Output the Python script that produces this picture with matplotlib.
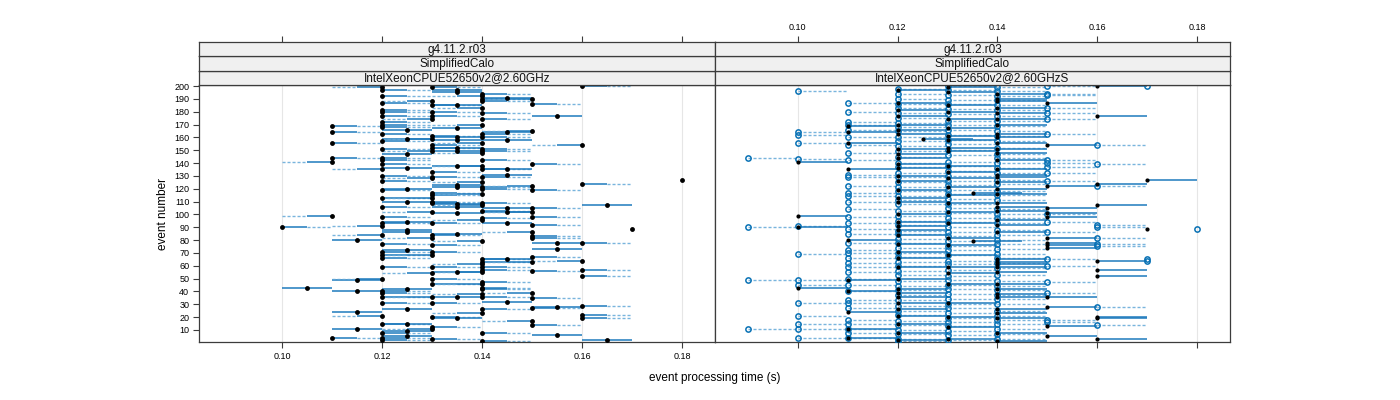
import matplotlib.pyplot as plt

plt.rcParams['font.family'] = ['Liberation Sans', 'DejaVu Sans']

# strip labels (top to bottom) for the two panels
strip_version = ['g4.11.2.r03', 'g4.11.2.r03']
strip_app = ['SimplifiedCalo', 'SimplifiedCalo']
strip_cpu = ['IntelXeonCPUE52650v2@2.60GHz', 'IntelXeonCPUE52650v2@2.60GHzS']

x_ticks = [0.10, 0.12, 0.14, 0.16, 0.18]
y_ticks = list(range(10, 201, 10))

# left panel: event numbers of the black points, keyed by time in ms
left_dots = {
    100: [90],
    105: [43],
    110: [4, 99, 141, 144, 156, 164, 169],
    115: [11, 24, 40, 49, 80],
    120: [2, 4, 8, 15, 21, 31, 36, 39, 40, 50, 59, 66, 68, 71, 77, 84, 91, 93, 98, 106,
          113, 119, 126, 130, 135, 139, 142, 144, 151, 157, 163, 168, 170, 172, 177, 180,
          181, 187, 192, 197, 199],
    125: [5, 9, 15, 26, 42, 72, 86, 88, 94, 110, 120, 136, 147, 159, 166],
    130: [3, 11, 12, 20, 31, 36, 46, 50, 54, 59, 68, 71, 76, 82, 84, 93, 102, 109, 110, 113,
          115, 117, 128, 129, 133, 149, 152, 154, 159, 161, 174, 177, 180, 185, 188, 199],
    135: [19, 36, 55, 85, 101, 106, 108, 121, 123, 138, 149, 152, 158, 160, 167, 185, 195, 197],
    140: [1, 8, 23, 26, 36, 38, 42, 43, 46, 47, 55, 57, 59, 61, 63, 65, 79, 96, 97, 103, 107,
          109, 116, 120, 121, 125, 129, 135, 138, 142, 148, 149, 151, 156, 160, 163, 170, 174,
          179, 183, 188, 190, 192, 194],
    145: [32, 65, 93, 102, 105, 131, 135, 158, 164, 191],
    150: [14, 17, 27, 35, 39, 56, 63, 67, 82, 83, 86, 92, 98, 102, 105, 119, 122, 139, 165, 186, 190],
    155: [6, 28, 73, 78, 177],
    160: [19, 22, 29, 52, 57, 64, 78, 124, 154, 200],
    165: [2, 107],
    170: [89],
    180: [127],
}
# points whose range line runs back to the left of the point
left_back = {
    110: [99, 141],
    120: [21, 50, 84, 91, 135, 199],
    130: [11, 36, 54, 68, 82, 102, 113, 128, 149, 159, 174, 188],
    140: [23, 38, 46, 55, 61, 79, 96, 107, 116, 125, 138, 148, 156, 170, 183, 192],
    150: [17, 39, 63, 86, 102, 122, 165, 190],
    160: [64, 154],
}
# points drawn without a range line
left_bare = {170: [89], 180: [127]}

# right panel: black points and open circles, keyed by time in ms
right_dots = {
    100: [43, 90, 99, 141],
    110: [4, 11, 24, 40, 49, 80, 135, 156, 164, 169],
    120: [2, 8, 15, 21, 26, 31, 36, 39, 42, 50, 59, 66, 71, 77, 84, 88, 91, 94, 100, 110,
          113, 119, 126, 130, 136, 139, 144, 147, 151, 163, 166, 170, 177, 181, 187, 197],
    125: [159],
    130: [3, 12, 20, 31, 46, 54, 59, 68, 76, 82, 93, 102, 109, 115, 121, 128, 133, 138, 149,
          152, 158, 161, 167, 174, 180, 185, 195, 199],
    135: [79, 117],
    140: [1, 8, 19, 23, 26, 36, 38, 42, 46, 55, 59, 61, 63, 65, 86, 92, 96, 103, 106, 109,
          116, 120, 125, 129, 131, 135, 142, 148, 151, 156, 160, 163, 170, 174, 179, 183,
          188, 190, 194],
    150: [5, 13, 28, 36, 74, 76, 78, 82, 98, 101, 105, 122, 154, 187],
    160: [3, 19, 20, 52, 57, 64, 107, 124, 177, 200],
    170: [89, 127],
}
right_open = {
    90: [11, 49, 90, 144],
    100: [4, 11, 15, 21, 31, 45, 49, 69, 91, 143, 156, 162, 164, 196],
    110: [4, 8, 11, 15, 18, 27, 31, 33, 40, 45, 50, 55, 59, 62, 66, 70, 72, 78, 85, 89, 93,
          98, 104, 110, 114, 117, 122, 129, 131, 142, 148, 154, 160, 166, 170, 172, 180, 187],
    120: [1, 3, 7, 10, 14, 17, 22, 25, 29, 33, 37, 41, 44, 48, 53, 56, 60, 63, 67, 70, 74, 78,
          81, 85, 87, 92, 95, 99, 103, 108, 111, 114, 118, 121, 125, 129, 132, 137, 140, 145,
          149, 153, 157, 160, 165, 168, 171, 175, 179, 183, 186, 190, 194, 198],
    130: [2, 6, 9, 13, 16, 19, 23, 27, 30, 34, 38, 42, 45, 49, 52, 57, 61, 64, 68, 72, 75, 79,
          83, 86, 90, 94, 97, 101, 105, 108, 112, 116, 119, 123, 126, 130, 134, 138, 141, 146,
          150, 155, 158, 162, 166, 170, 173, 178, 182, 186, 189, 193, 197, 200],
    140: [3, 7, 11, 15, 18, 21, 25, 30, 34, 37, 41, 44, 48, 53, 58, 62, 66, 69, 73, 77, 80, 84,
          88, 93, 97, 100, 104, 111, 115, 118, 124, 127, 132, 136, 140, 144, 147, 152, 157,
          161, 165, 169, 173, 177, 181, 185, 189, 192, 196, 199],
    150: [16, 18, 39, 47, 60, 65, 86, 94, 100, 126, 132, 137, 140, 142, 163, 174, 179, 183,
          193, 194, 200],
    160: [14, 28, 75, 77, 82, 90, 92, 122, 139, 154],
    170: [64, 65, 200],
    180: [89],
}

BLUE = '#1f7bbd'
LIGHT = '#62a8d8'
EDGE = '#3c3c3c'
X0, X1 = 0.0834, 0.1866
Y0, Y1 = 0.6, 200.8


def solid(ax, a, b, e):
    ax.plot([a / 1000, b / 1000], [e, e], color=BLUE, lw=1.3, alpha=0.85,
            solid_capstyle='butt', zorder=2)


def dashed(ax, a, b, e):
    ax.plot([a / 1000, b / 1000], [e, e], color=LIGHT, lw=1.0, alpha=0.85,
            dashes=(2.2, 1.4), zorder=2)


fig = plt.figure(figsize=(14, 4), dpi=100)
H = 400.0
panel_x = [(199, 715), (715, 1230)]
axes = []
for i, (xa, xb) in enumerate(panel_x):
    ax = fig.add_axes([xa / 1400, (H - 342) / H, (xb - xa) / 1400, (342 - 85) / H])
    ax.set_xlim(X0, X1)
    ax.set_ylim(Y0, Y1)
    for t in x_ticks:
        ax.axvline(t, color='#e6e6e6', lw=0.8, zorder=0)
    for s in ax.spines.values():
        s.set_color(EDGE)
        s.set_linewidth(0.9)
    ax.set_xticks(x_ticks)
    ax.tick_params(axis='both', direction='out', length=4, width=0.8, color=EDGE,
                   labelsize=6.5, pad=3)
    if i == 0:
        ax.set_xticklabels(['%.2f' % t for t in x_ticks])
        ax.set_yticks(y_ticks)
        ax.set_yticklabels([str(v) for v in y_ticks])
    else:
        ax.set_xticklabels([])
        ax.set_yticks([])
    axes.append(ax)

    # strips
    labels = [strip_cpu[i], strip_app[i], strip_version[i]]
    sh = 14.33
    for k, lab in enumerate(labels):
        sax = fig.add_axes([xa / 1400, (H - 85 + k * sh) / H, (xb - xa) / 1400, sh / H])
        sax.set_facecolor('#f0f0f0')
        sax.set_xlim(X0, X1)
        sax.set_yticks([])
        for s in sax.spines.values():
            s.set_color(EDGE)
            s.set_linewidth(0.9)
        sax.text(0.5, 0.47, lab, transform=sax.transAxes, ha='center', va='center',
                 fontsize=8.5, color='#111111')
        if k == 2:
            sax.set_xticks(x_ticks)
            sax.xaxis.set_ticks_position('top')
            sax.tick_params(axis='x', direction='out', length=4, width=0.8, color=EDGE,
                            labelsize=6.5, pad=3)
            if i == 1:
                sax.set_xticklabels(['%.2f' % t for t in x_ticks])
            else:
                sax.set_xticklabels([])
        else:
            sax.set_xticks([])

# left panel
ax = axes[0]
for t, evs in left_dots.items():
    for e in evs:
        if e in left_bare.get(t, []):
            continue
        if t % 10 == 5:
            solid(ax, t - 5, t + 5, e)
        elif e in left_back.get(t, []):
            dashed(ax, t - 10, t - 5, e)
            solid(ax, t - 5, t, e)
        else:
            solid(ax, t, t + 5, e)
            dashed(ax, t + 5, t + 10, e)
for t, evs in left_dots.items():
    ax.plot([t / 1000] * len(evs), evs, 'o', color='black', ms=3.5, mew=0, zorder=4)

# right panel
ax = axes[1]
for t, evs in right_open.items():
    for e in evs:
        if t < 170:
            dashed(ax, t, t + 10, e)
for t, evs in right_dots.items():
    for e in evs:
        if t < 170 or e == 127:
            solid(ax, t, t + 10, e)
for t, evs in right_open.items():
    ax.plot([t / 1000] * len(evs), evs, 'o', mfc='none', mec='#0a72b5', ms=3.8, mew=1.1,
            zorder=3)
for t, evs in right_dots.items():
    ax.plot([t / 1000] * len(evs), evs, 'o', color='black', ms=3.0, mew=0, zorder=4)

fig.text(715 / 1400, 1 - 378 / H, 'event processing time (s)', ha='center', va='center',
         fontsize=8.5)
fig.text(163 / 1400, 1 - 214 / H, 'event number', ha='center', va='center',
         rotation=90, fontsize=8.5)

fig.savefig('out.png', dpi=100)
